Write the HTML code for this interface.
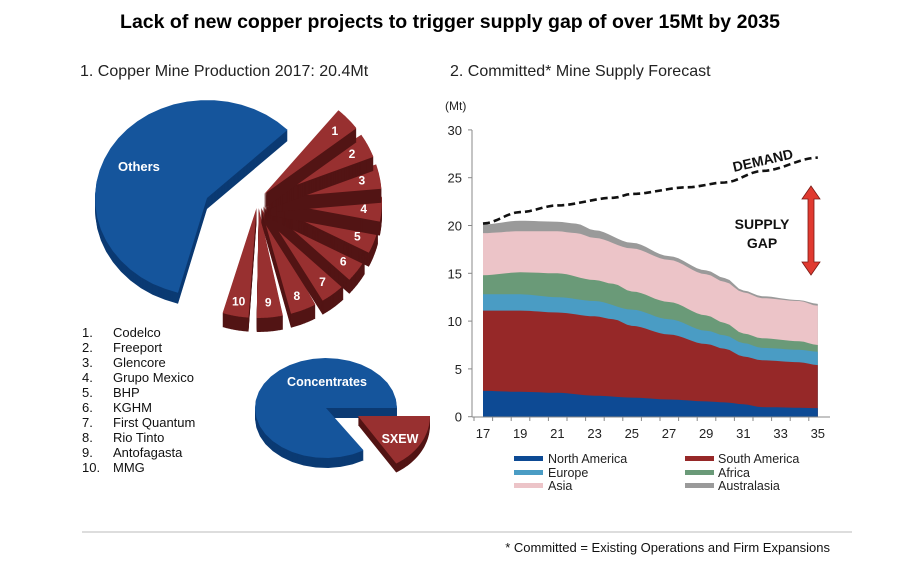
<!DOCTYPE html>
<html><head><meta charset="utf-8"><style>
body{margin:0;background:#fff;width:900px;height:558px;overflow:hidden;font-family:"Liberation Sans",Arial,sans-serif}
</style></head><body>
<svg id="s" width="900" height="558" viewBox="0 0 900 558" xmlns="http://www.w3.org/2000/svg" font-family="Liberation Sans, Arial, sans-serif">
<text x="450" y="28" text-anchor="middle" font-size="19.5" font-weight="bold" fill="#000">Lack of new copper projects to trigger supply gap of over 15Mt by 2035</text>
<text x="80" y="76" font-size="16" fill="#222">1. Copper Mine Production 2017: 20.4Mt</text>
<text x="450" y="76" font-size="16" fill="#222">2. Committed* Mine Supply Forecast</text>
<g id="pies"></g>
<g font-size="13" fill="#111">
<text x="82" y="337">1.</text><text x="113" y="337">Codelco</text>
<text x="82" y="352">2.</text><text x="113" y="352">Freeport</text>
<text x="82" y="367">3.</text><text x="113" y="367">Glencore</text>
<text x="82" y="382">4.</text><text x="113" y="382">Grupo Mexico</text>
<text x="82" y="397">5.</text><text x="113" y="397">BHP</text>
<text x="82" y="412">6.</text><text x="113" y="412">KGHM</text>
<text x="82" y="427">7.</text><text x="113" y="427">First Quantum</text>
<text x="82" y="442">8.</text><text x="113" y="442">Rio Tinto</text>
<text x="82" y="457">9.</text><text x="113" y="457">Antofagasta</text>
<text x="82" y="472">10.</text><text x="113" y="472">MMG</text>
</g>
<g id="chart"></g>
<g font-size="12.5" fill="#222">
<rect x="514" y="456" width="29" height="5" fill="#0d4a94"/><text x="548" y="463">North America</text>
<rect x="514" y="470" width="29" height="5" fill="#4a9cc4"/><text x="548" y="477">Europe</text>
<rect x="514" y="483" width="29" height="5" fill="#ecc4c8"/><text x="548" y="490">Asia</text>
<rect x="685" y="456" width="29" height="5" fill="#962828"/><text x="718" y="463">South America</text>
<rect x="685" y="470" width="29" height="5" fill="#6a9a78"/><text x="718" y="477">Africa</text>
<rect x="685" y="483" width="29" height="5" fill="#9a9a9a"/><text x="718" y="490">Australasia</text>
</g>
<line x1="82" y1="532" x2="852" y2="532" stroke="#bbb" stroke-width="1"/>
<text x="830" y="552" text-anchor="end" font-size="13" fill="#111">* Committed = Existing Operations and Firm Expansions</text>
</svg>
<script>
var NS="http://www.w3.org/2000/svg";
function el(p,t,a,txt){var e=document.createElementNS(NS,t);for(var k in a)e.setAttribute(k,a[k]);if(txt)e.textContent=txt;p.appendChild(e);return e;}
var pies=document.getElementById('pies');
function wedge(cx,cy,rx,ry,a0,a1,dy){var r=Math.PI/180,n=30,d="M"+cx+","+(cy+dy);for(var i=0;i<=n;i++){var a=(a0+(a1-a0)*i/n)*r;d+=" L"+(cx+rx*Math.cos(a)).toFixed(1)+","+(cy+dy+ry*Math.sin(a)).toFixed(1);}return d+"Z";}
function pie3(cx,cy,rx,ry,a0,a1,top,side,depth){for(var k=depth;k>0;k--)el(pies,'path',{d:wedge(cx,cy,rx,ry,a0,a1,k),fill:side});el(pies,'path',{d:wedge(cx,cy,rx,ry,a0,a1,0),fill:top});}
// Others
pie3(207,198,112,98,105,316,'#15559c','#0b3a73',11);
el(pies,'text',{x:118,y:171,'font-size':13,'font-weight':'bold',fill:'#fff'},'Others');
// red slices
var cx=258,cy=200,start=-50,step=16;
var labs=[];
for(var i=9;i>=0;i--){var a0=start+i*step,a1=a0+step-3,m=(a0+a1)/2*Math.PI/180,ex=8;
 var x=cx+ex*Math.cos(m),y=cy+ex*Math.sin(m);
 pie3(x,y,116,110,a0,a1,'#983030','#521414',14);
 labs.push([x+98*Math.cos(m),y+94*Math.sin(m)+5,String(i+1)]);}
labs.forEach(function(l){el(pies,'text',{x:l[0],y:l[1],'font-size':12,'font-weight':'bold',fill:'#fff','text-anchor':'middle'},l[2]);});
// concentrates
pie3(326,408,71,50,58,360,'#15559c','#0b3a73',10);
el(pies,'text',{x:327,y:386,'font-size':12.5,'font-weight':'bold',fill:'#fff','text-anchor':'middle'},'Concentrates');
pie3(358,416,72,56,0,58,'#983030','#521414',9);
el(pies,'text',{x:400,y:443,'font-size':12.5,'font-weight':'bold',fill:'#fff','text-anchor':'middle'},'SXEW');
// chart
var g=document.getElementById('chart');
function X(yr){return 483+(yr-17)*18.6;}function Y(v){return 416.7-v*9.56;}
function interp(pts){var out=[];for(var yr=17;yr<=35.001;yr+=0.25){var i=0;while(i<pts.length-2&&pts[i+1][0]<yr)i++;var a=pts[i],b=pts[i+1],t=(yr-a[0])/(b[0]-a[0]);t=t*t*(3-2*t);out.push([yr,a[1]+(b[1]-a[1])*t]);}return out;}
var L={
na:[[17,2.7],[19,2.6],[21,2.5],[23,2.2],[25,2.0],[27,1.8],[29,1.6],[30,1.5],[31,1.3],[32,1.0],[35,0.9]],
sa:[[17,11.1],[19,11.1],[21,10.9],[23,10.5],[24,10.2],[25,9.5],[27,8.6],[29,7.6],[30,7.1],[31,6.3],[32,5.9],[34,5.7],[35,5.4]],
eu:[[17,12.8],[19,12.8],[21,12.5],[23,12.1],[25,11.2],[27,10.2],[29,9.0],[30,8.5],[31,7.7],[32,7.2],[34,7.0],[35,6.8]],
af:[[17,14.8],[19,15.1],[21,15.0],[23,14.3],[24,13.9],[25,13.1],[27,12.0],[29,10.6],[30,9.8],[31,8.7],[32,8.2],[34,7.9],[35,7.5]],
as:[[17,19.2],[19,19.4],[21,19.4],[22,19.2],[23,18.7],[25,17.6],[27,16.4],[29,14.9],[30,14.1],[31,13.0],[32,12.4],[34,12.1],[35,11.6]],
au:[[17,20.1],[19,20.5],[21,20.4],[22,20.2],[23,19.5],[25,18.2],[27,16.8],[29,15.3],[30,14.5],[31,13.2],[32,12.6],[34,12.2],[35,11.8]]};
var order=[['au','#9a9a9a'],['as','#ecc4c8'],['af','#6a9a78'],['eu','#4a9cc4'],['sa','#962828'],['na','#0d4a94']];
order.forEach(function(o){var p=interp(L[o[0]]),d="M"+X(17)+","+Y(0);p.forEach(function(q){d+=" L"+X(q[0]).toFixed(1)+","+Y(q[1]).toFixed(1);});d+=" L"+X(35)+","+Y(0)+"Z";el(g,'path',{d:d,fill:o[1]});});
var dm=interp([[17,20.2],[19,21.4],[21,22.1],[24,22.9],[25,23.3],[28,24.0],[30,24.5],[32,25.7],[35,27.1]]),dd="";
dm.forEach(function(q,i){dd+=(i?" L":"M")+X(q[0]).toFixed(1)+","+Y(q[1]).toFixed(1);});
el(g,'path',{d:dd,fill:'none',stroke:'#111','stroke-width':2.6,'stroke-dasharray':'7,4'});
el(g,'line',{x1:472,y1:130,x2:472,y2:417,stroke:'#888'});
el(g,'line',{x1:472,y1:417,x2:830,y2:417,stroke:'#888'});
for(var v=0;v<=30;v+=5){el(g,'line',{x1:468,y1:Y(v),x2:472,y2:Y(v),stroke:'#888'});el(g,'text',{x:462,y:Y(v)+5,'font-size':13,'text-anchor':'end',fill:'#222'},String(v));}
for(var yr=17;yr<=35;yr++){el(g,'line',{x1:X(yr)-9,y1:417,x2:X(yr)-9,y2:421,stroke:'#888'});if(yr%2==1)el(g,'text',{x:X(yr),y:438,'font-size':13,'text-anchor':'middle',fill:'#222'},String(yr));}
el(g,'text',{x:445,y:110,'font-size':12,fill:'#222'},'(Mt)');
el(g,'text',{x:0,y:0,'font-size':14,'font-weight':'bold',fill:'#111',transform:'translate(734,172) rotate(-13)'},'DEMAND');
el(g,'text',{x:762,y:229,'font-size':14,'font-weight':'bold',fill:'#111','text-anchor':'middle'},'SUPPLY');
el(g,'text',{x:762,y:248,'font-size':14,'font-weight':'bold',fill:'#111','text-anchor':'middle'},'GAP');
el(g,'path',{d:'M811,186 L820,199 L814,199 L814,262 L820,262 L811,275 L802,262 L808,262 L808,199 L802,199 Z',fill:'#e03a30',stroke:'#7a1a14','stroke-width':0.8});
</script>
</body></html>
